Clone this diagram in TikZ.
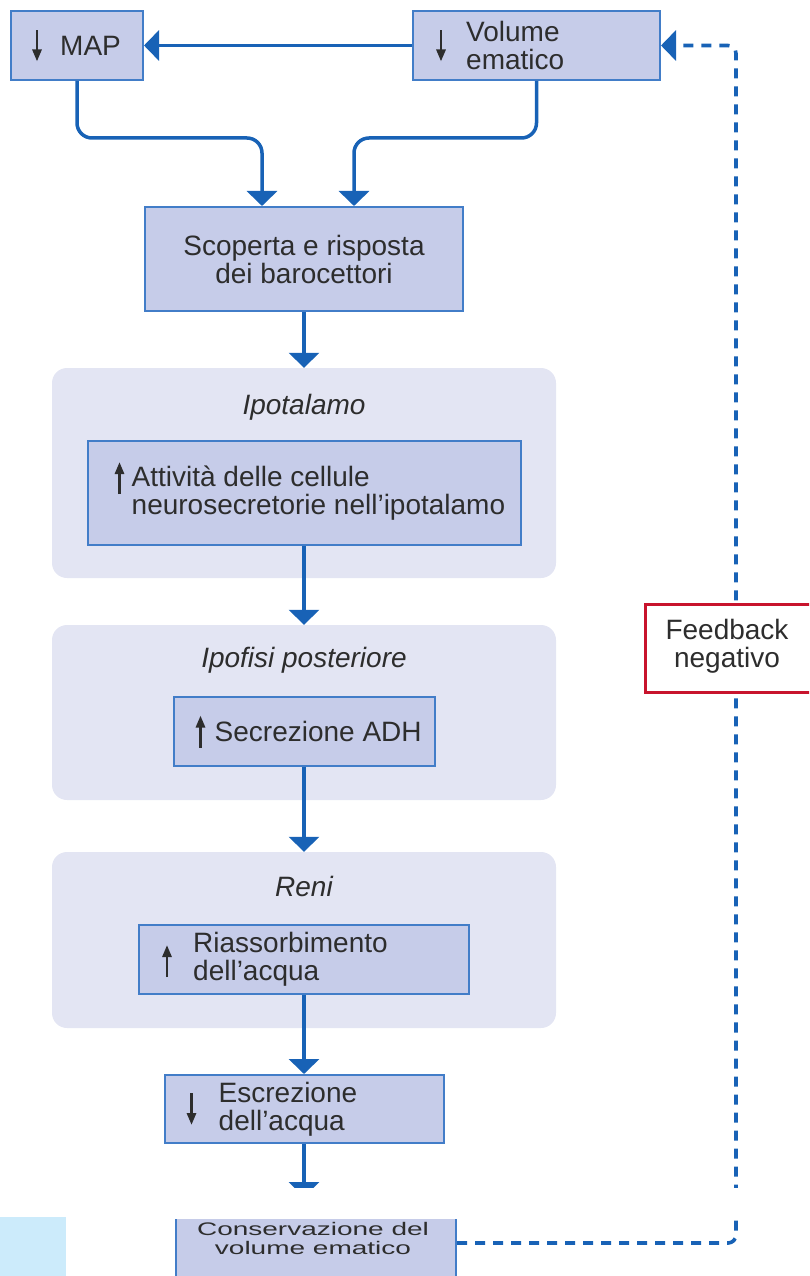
\documentclass[tikz,border=0pt]{standalone}
\usepackage{fontspec}
\usepackage{graphicx}
\setmainfont{Liberation Sans}
\usetikzlibrary{arrows.meta,positioning,calc}

\definecolor{adhblue}{RGB}{24,98,182}
\definecolor{adhedge}{RGB}{66,125,200}
\definecolor{adhbox}{RGB}{198,204,233}
\definecolor{adhpanel}{RGB}{227,229,243}
\definecolor{adhred}{RGB}{200,20,45}
\definecolor{adhtext}{RGB}{45,45,45}
\definecolor{adhsky}{RGB}{204,235,251}

\tikzset{
  pbox/.style={draw=adhedge, line width=2pt, fill=adhbox, inner sep=0pt},
  panel/.style={fill=adhpanel, rounded corners=15pt, inner sep=0pt},
  txt/.style={text=adhtext, font=\fontsize{28}{28}\selectfont, inner sep=0pt, align=left},
  paneltitle/.style={txt, font=\fontsize{28}{28}\selectfont\itshape},
  fbbox/.style={draw=adhred, line width=3pt, fill=white, inner sep=0pt},
  flow/.style={draw=adhblue, line width=3.5pt, -{Triangle[length=15pt,width=30pt]}},
  fbline/.style={draw=adhblue, line width=3.6pt, dash pattern=on 10pt off 8pt,
    -{Triangle[length=15pt,width=30pt]}},
  glyph/.style={draw=adhtext, line width=2.8pt, -{Triangle[length=12pt,width=9pt]}},
}

\begin{document}
\begin{tikzpicture}[x=1pt,y=-1pt]
  \useasboundingbox (0,0) rectangle (809,1276);
  \clip (0,0) rectangle (809,1276);

  % ---- grey panels ---------------------------------------------
  \node[panel, minimum width=504pt, minimum height=210pt] (hypo) at (304,473) {};
  \node[panel, minimum width=504pt, minimum height=175pt] (pitu) at (304,712.5) {};
  \node[panel, minimum width=504pt, minimum height=176pt] (kidn) at (304,940) {};
  \node[paneltitle] (hypotit) at ($(hypo.north)+(0,39)$) {Ipotalamo};
  \node[paneltitle] (pitutit) at ($(pitu.north)+(0,35)$) {Ipofisi posteriore};
  \node[paneltitle] (kidntit) at ($(kidn.north)+(0,35)$) {Reni};

  % ---- boxes ---------------------------------------------------
  \node[pbox, minimum width=132pt, minimum height=69pt]  (map)   at (77,45.5)   {};
  \node[pbox, minimum width=247pt, minimum height=69pt]  (vol)   at (536.5,45.5) {};
  \node[pbox, minimum width=318pt, minimum height=104pt] (baro)  at (304,259)   {};
  \node[pbox, minimum width=433pt, minimum height=104pt] (neuro) at (304,493)   {};
  \node[pbox, minimum width=261pt, minimum height=69pt]  (adh)   at (304,731.5) {};
  \node[pbox, minimum width=330pt, minimum height=69pt]  (reab)  at (304,959.5) {};
  \node[pbox, minimum width=279pt, minimum height=68pt]  (excr)  at (304,1109)  {};
  \node[pbox, minimum width=280pt, minimum height=86pt]  (cons)  at (316,1258)  {};

  % ---- box texts -----------------------------------------------
  \node[txt, right=50pt of map.west]   (maptxt)   {MAP};
  \node[txt, right=54pt of vol.west]   (voltxt)   {Volume\\ematico};
  \node[txt, align=center] (barotxt) at (baro) {Scoperta e risposta\\dei barocettori};
  \node[txt, right=45pt of neuro.west] (neurotxt) {Attività delle cellule\\neurosecretorie nell'ipotalamo};
  \node[txt, right=42pt of adh.west]   (adhtxt)   {Secrezione ADH};
  \node[txt, right=55pt of reab.west]  (reabtxt)  {Riassorbimento\\dell'acqua};
  \node[txt, right=55pt of excr.west]  (excrtxt)  {Escrezione\\dell'acqua};
  \node[txt] (constxt) at (313,1241)
    {\scalebox{1}[0.65]{\begin{tabular}{@{}c@{}}Conservazione del\\volume ematico\end{tabular}}};

  % up / down marks
  \draw[glyph] ($(map.west)+(27,-15)$)   -- ++(0,31);
  \draw[glyph] ($(vol.west)+(29,-15)$)   -- ++(0,31);
  \draw[glyph] ($(neuro.west)+(33,1)$)   -- ++(0,-32);
  \draw[glyph] ($(adh.west)+(28,16)$)    -- ++(0,-32);
  \draw[glyph] ($(reab.west)+(29,17.5)$) -- ++(0,-32);
  \draw[glyph] ($(excr.west)+(28,-16)$)  -- ++(0,32);

  % ---- connectors ----------------------------------------------
  \coordinate (cut) at (304,1197);
  \draw[flow] (vol) -- (map);
  \draw[flow, rounded corners=15pt] (map.south) -- ++(0,57) -| ([xshift=-42pt]baro.north);
  \draw[flow, rounded corners=15pt] (vol.south) -- ++(0,57) -| ([xshift=50pt]baro.north);
  \draw[flow] (baro.south)  -- (hypo.north);
  \draw[flow] (neuro.south) -- (pitu.north);
  \draw[flow] (adh.south)   -- (kidn.north);
  \draw[flow] (reab.south)  -- (excr.north);
  \draw[flow] (excr.south)  -- (cut);

  % feedback loop
  \draw[fbline, rounded corners=8pt] ([yshift=15pt]cons.east) -| ($(vol.east)+(75,0)$) -- (vol.east);
  \node[fbbox, minimum width=180pt, minimum height=88pt] (fb) at (735,648) {};
  \node[txt, align=center] (fbtxt) at (727,646) {Feedback\\negativo};

  % page cut at the bottom
  \fill[white]  (0,1188) rectangle (809,1219);
  \fill[adhsky] (0,1217) rectangle (66,1276);
\end{tikzpicture}
\end{document}
